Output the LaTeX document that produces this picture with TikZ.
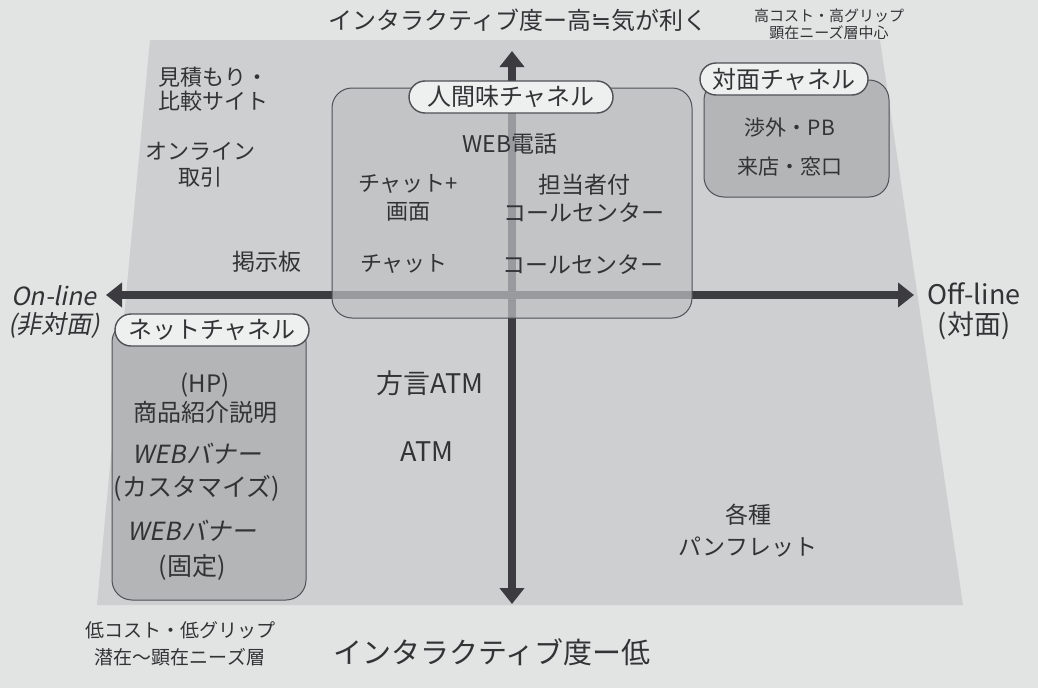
\documentclass[tikz,border=0pt]{standalone}
\usepackage{fontspec}
\setmainfont{Noto Sans CJK JP}
\newfontfamily\jpit[FakeSlant=0.2]{Noto Sans CJK JP}
\newfontfamily\symfont{DejaVu Sans}
\usetikzlibrary{arrows.meta}
\definecolor{pagebg}{HTML}{E2E4E4}
\definecolor{region}{HTML}{CDCFD0}
\definecolor{boxfill}{HTML}{B3B5B7}
\definecolor{pillfill}{HTML}{EEF0F0}
\definecolor{axiscol}{HTML}{3C3B3F}
\definecolor{txt}{HTML}{333335}
\definecolor{edge}{HTML}{505055}
\tikzset{
  lbl/.style={text=txt, align=center, inner sep=0pt, font=\fontsize{#1}{#1}\selectfont},
  chanbox/.style={draw=edge, line width=1pt, fill=boxfill, rounded corners=20pt},
  pill/.style={draw=edge, line width=1.4pt, fill=pillfill, rounded corners=16pt, minimum height=32pt, inner xsep=12pt, text=txt, font=\fontsize{24}{26}\selectfont},
  axis/.style={draw=axiscol, line width=8pt, {Triangle[width=24pt,length=16pt]}-{Triangle[width=24pt,length=16pt]}}
}
\begin{document}
\begin{tikzpicture}[x=1pt,y=-1pt]
\useasboundingbox (0,0) rectangle (1038,688);
\fill[pagebg] (0,0) rectangle (1038,688);
% shaded quadrant area
\fill[region] (150,40) -- (880,40) -- (963,605) -- (97,605) -- cycle;
% side channel boxes
\draw[chanbox] (704,80) rectangle (889,197);
\draw[chanbox] (112,322) rectangle (306,600);
% axes
\coordinate (L) at (106,295);
\coordinate (R) at (914,295);
\coordinate (T) at (512,51);
\coordinate (B) at (512,604);
\draw[axis] (L) -- (R);
\draw[axis] (T) -- (B);
% human channel box (semi transparent over axes)
\draw[chanbox, fill=boxfill!85!white, fill opacity=0.72] (332,88) rectangle (692,318);
% pills
\node[pill, minimum width=204pt] (pHuman) at (511,97) {人間味チャネル};
\node[pill, minimum width=168pt] (pFace) at (784,79) {対面チャネル};
\node[pill, minimum width=194pt] (pNet) at (212,330) {ネットチャネル};
% axis labels
\node[lbl=24] (top) at (518,20) {インタラクティブ度ー高{\symfont ≒}気が利く};
\node[lbl=29] (bottom) at (492,652) {インタラクティブ度ー低};
\node[lbl=15, font=\fontsize{15}{17}\selectfont] (topnote) at (829,24) {高コスト・高グリップ\\顕在ニーズ層中心};
\node[lbl=19, font=\fontsize{19}{27}\selectfont] (botnote) at (180,644) {低コスト・低グリップ\\潜在〜顕在ニーズ層};
\node[lbl=25, font=\jpit\fontsize{25}{28}\selectfont] (online) at (54,312) {On-line\\(非対面)};
\node[lbl=27, font=\fontsize{27}{30}\selectfont] (offline) at (974,311) {Off-line\\(対面)};
% upper-left quadrant
\node[lbl=22, font=\fontsize{22}{24}\selectfont] (mitsu) at (213,89) {見積もり・\\比較サイト};
\node[lbl=22, font=\fontsize{22}{26}\selectfont] (trade) at (200,165) {オンライン\\取引};
\node[lbl=23] (bbs) at (267,262) {掲示板};
% human channel contents
\node[lbl=23] (webtel) at (510,144) {WEB電話};
\node[lbl=22, font=\fontsize{22}{28}\selectfont] (chatscr) at (408,198) {チャット+\\画面};
\node[lbl=23, font=\fontsize{23}{28}\selectfont] (tanto) at (584,198) {担当者付\\コールセンター};
\node[lbl=22] (chat) at (404,264) {チャット};
\node[lbl=23] (call) at (583,265) {コールセンター};
% face channel contents
\node[lbl=21] (pb) at (790,128) {渉外・PB};
\node[lbl=21] (store) at (790,167) {来店・窓口};
% net channel contents
\node[lbl=24, font=\fontsize{24}{29}\selectfont] (hp) at (205,398) {(HP)\\商品紹介説明};
\node[lbl=25, font=\fontsize{25}{33}\selectfont] (banner1) at (197,472) {{\jpit WEBバナー}\\(カスタマイズ)};
\node[lbl=25, font=\fontsize{25}{35}\selectfont] (banner2) at (192,550) {{\jpit WEBバナー}\\(固定)};
% lower quadrants
\node[lbl=27] (hatm) at (430,383) {方言ATM};
\node[lbl=27] (atm) at (427,452) {ATM};
\node[lbl=23, font=\fontsize{23}{32}\selectfont] (pamph) at (748,531) {各種\\パンフレット};
\end{tikzpicture}
\end{document}
